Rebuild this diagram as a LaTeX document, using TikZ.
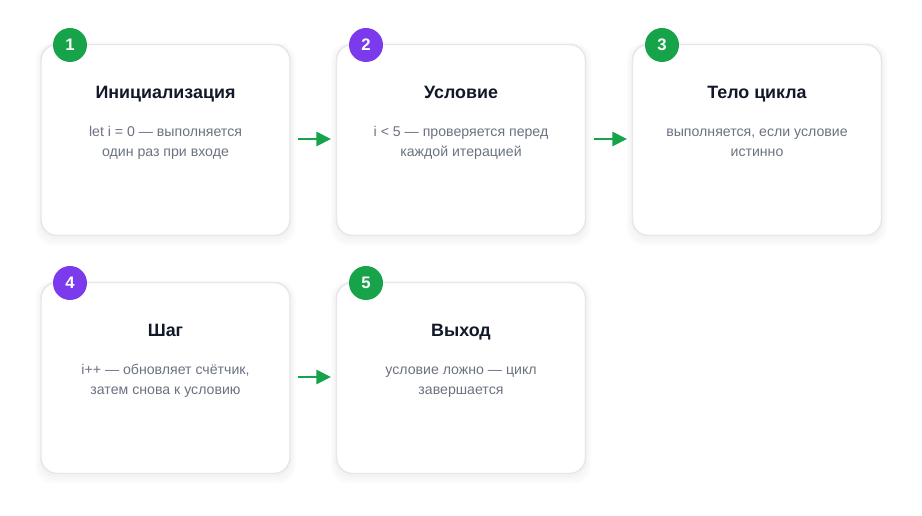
\documentclass[tikz,border=0pt]{standalone}
\usepackage{fontspec}
\setmainfont{Liberation Sans}
\usetikzlibrary{arrows.meta,positioning}
\definecolor{cgreen}{HTML}{16A34A}
\definecolor{cpurple}{HTML}{7C3AED}
\definecolor{ctitle}{HTML}{111827}
\definecolor{cdesc}{HTML}{6B7280}
\definecolor{cborder}{HTML}{E5E7EB}
\begin{document}
\begin{tikzpicture}[x=0.75pt,y=-0.75pt,
  card/.style={draw=cborder,line width=1.1pt,fill=white,rounded corners=12pt,minimum width=186.75pt,minimum height=143.25pt,inner sep=0pt},
  shade1/.style={fill=black,fill opacity=0.016,rounded corners=13pt,minimum width=189pt,minimum height=146pt,inner sep=0pt},
  badge/.style={circle,minimum size=25.5pt,inner sep=0pt,text=white,font=\bfseries\fontsize{12.5}{14}\selectfont},
  ttl/.style={anchor=base,text=ctitle,font=\bfseries\fontsize{13.4}{16}\selectfont},
  dsc/.style={anchor=base,text=cdesc,font=\fontsize{10.6}{15}\selectfont,align=center},
  flow/.style={draw=cgreen,line width=2.2pt,-{Triangle[length=11pt,width=10.5pt]}}]
\useasboundingbox (0,0) rectangle (922,516);
\fill[white] (0,0) rectangle (922,516);
% shadows
\foreach \cx/\cy in {165.5/140,461/140,757/140,165.5/378,461/378}{
  \node[shade1] at (\cx,\cy+2) {};
  \node[shade1,minimum width=192pt,minimum height=149pt] at (\cx,\cy+3) {};
  \node[shade1,minimum width=195pt,minimum height=152pt] at (\cx,\cy+4) {};
}
% cards
\node[card] (c1) at (165.5,140) {};
\node[card] (c2) at (461,140) {};
\node[card] (c3) at (757,140) {};
\node[card] (c4) at (165.5,378) {};
\node[card] (c5) at (461,378) {};
% badges
\node[badge,fill=cgreen] (b1) at (70,45) {1};
\node[badge,fill=cpurple] (b2) at (366,45) {2};
\node[badge,fill=cgreen] (b3) at (662,45) {3};
\node[badge,fill=cpurple] (b4) at (70,283) {4};
\node[badge,fill=cgreen] (b5) at (366,283) {5};
% titles
\node[ttl] (t1) at (165.5,99) {Инициализация};
\node[ttl] (t2) at (461,99) {Условие};
\node[ttl] (t3) at (757,99) {Тело цикла};
\node[ttl] (t4) at (165.5,337) {Шаг};
\node[ttl] (t5) at (461,337) {Выход};
% descriptions (base = last line)
\node[dsc] (d1) at (165.5,157) {let i = 0 — выполняется\\один раз при входе};
\node[dsc] (d2) at (461,157) {i < 5 — проверяется перед\\каждой итерацией};
\node[dsc] (d3) at (757,157) {выполняется, если условие\\истинно};
\node[dsc] (d4) at (165.5,395) {i++ — обновляет счётчик,\\затем снова к условию};
\node[dsc] (d5) at (461,395) {условие ложно — цикл\\завершается};
% arrows
\coordinate (a1s) at (298,139); \coordinate (a1e) at (331,139);
\coordinate (a2s) at (594,139); \coordinate (a2e) at (627,139);
\coordinate (a4s) at (298,377); \coordinate (a4e) at (331,377);
\draw[flow] (a1s) -- (a1e);
\draw[flow] (a2s) -- (a2e);
\draw[flow] (a4s) -- (a4e);
\end{tikzpicture}
\end{document}
